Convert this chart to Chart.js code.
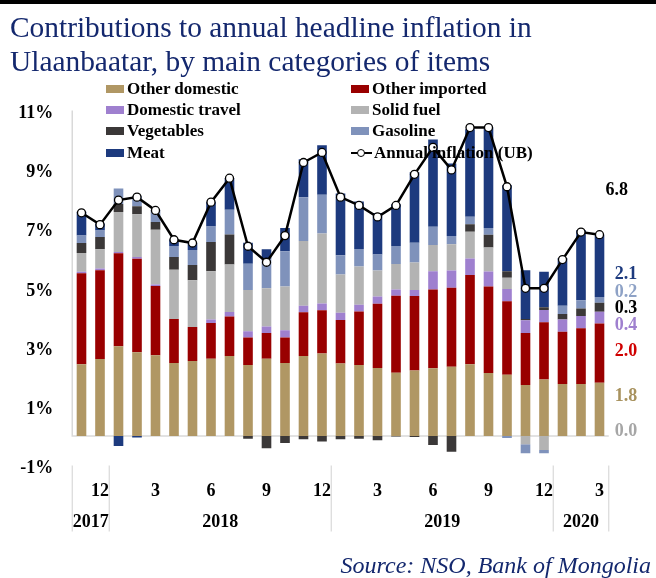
<!DOCTYPE html>
<html lang="en">
<head>
<meta charset="utf-8">
<title>Contributions to annual headline inflation in Ulaanbaatar</title>
<script src="https://cdn.jsdelivr.net/npm/chart.js@4.4.1/dist/chart.umd.min.js"></script>
<style>
  html, body { margin: 0; padding: 0; background: #fff; }
  body {
    width: 656px; height: 578px; position: relative; overflow: hidden;
    font-family: 'Liberation Serif', 'Times New Roman', serif;
  }
  #topbar { position: absolute; left: 0; top: 0; width: 656px; height: 4px; background: #000; }
  #chart { position: absolute; left: 0; top: 0; }
  #title {
    position: absolute; left: 10px; top: 10px;
    font-size: 29.4px; line-height: 34px; color: #14286e;
  }
  #legend {
    position: absolute; left: 106px; top: 78px;
    display: grid; grid-template-columns: 245px auto; grid-auto-rows: 21.3px;
    font-size: 17px; font-weight: bold; color: #000;
  }
  #legend .item { display: flex; align-items: center; white-space: nowrap; }
  #legend .swatch { width: 18px; height: 8px; margin-right: 3px; }
  #legend .line-swatch { position: relative; width: 21px; height: 2px; background: #000; margin-right: 2px; }
  #legend .line-swatch::after {
    content: ''; position: absolute; left: 6px; top: -3px;
    width: 6px; height: 6px; border-radius: 50%; background: #fff; border: 1px solid #000;
  }
  #source {
    position: absolute; right: 5px; top: 552px;
    font-size: 24px; font-style: italic; color: #14286e;
  }
</style>
</head>
<body>
<div id="topbar"></div>
<canvas id="chart" width="656" height="578"></canvas>
<div id="title">Contributions to annual headline inflation in<br>Ulaanbaatar, by main categories of items</div>
<div id="legend"></div>
<div id="source">Source: NSO, Bank of Mongolia</div>
<script>
// Nov 2017 .. Mar 2020, contributions in percentage points
const months = [11, 12, 1, 2, 3, 4, 5, 6, 7, 8, 9, 10, 11, 12, 1, 2, 3, 4, 5, 6, 7, 8, 9, 10, 11, 12, 1, 2, 3];
const years = [2017, 2017,
  2018, 2018, 2018, 2018, 2018, 2018, 2018, 2018, 2018, 2018, 2018, 2018,
  2019, 2019, 2019, 2019, 2019, 2019, 2019, 2019, 2019, 2019, 2019, 2019,
  2020, 2020, 2020];

const otherDomestic = [2.42, 2.60, 3.03, 2.83, 2.73, 2.47, 2.53, 2.61, 2.70, 2.40, 2.61, 2.47, 2.70, 2.79,
  2.45, 2.40, 2.30, 2.14, 2.21, 2.29, 2.34, 2.42, 2.13, 2.07, 1.72, 1.91, 1.76, 1.76, 1.8];
const otherImported = [3.08, 3.00, 3.14, 3.16, 2.34, 1.48, 1.15, 1.21, 1.34, 0.93, 0.87, 0.86, 1.48, 1.46,
  1.47, 1.81, 2.17, 2.60, 2.52, 2.66, 2.67, 3.02, 2.92, 2.48, 1.76, 1.93, 1.76, 1.88, 2.0];
const domesticTravel = [0.05, 0.06, 0.05, 0.06, 0.05, 0, 0, 0.12, 0.15, 0.21, 0.22, 0.24, 0.22, 0.23,
  0.24, 0.22, 0.24, 0.21, 0.20, 0.62, 0.58, 0.56, 0.51, 0.42, 0.43, 0.42, 0.42, 0.41, 0.4];
const solidFuel = [0.63, 0.65, 1.35, 1.44, 1.85, 1.67, 1.58, 1.63, 1.60, 1.39, 1.29, 1.48, 2.19, 2.36,
  1.30, 1.30, 0.88, 0.86, 0.93, 0.88, 0.89, 0.90, 0.81, 0.38, -0.28, -0.47, 0, 0, 0.0];
const vegetables = [0.34, 0.41, 0.27, 0.27, 0.26, 0.43, 0.52, 0.98, 1.02, -0.09, -0.41, -0.24, -0.11, -0.19,
  -0.11, -0.09, -0.14, -0.02, -0.03, -0.30, -0.53, 0.25, 0.43, 0.22, 0.04, 0.09, 0.18, 0.26, 0.3];
const gasoline = [0.25, 0.22, 0.52, 0.35, 0.41, 0.37, 0.50, 0.53, 0.83, 0.89, 1.00, 1.19, 1.48, 1.31,
  0.65, 0.59, 0.54, 0.61, 0.67, 0.62, 0.28, 0.26, 0.23, -0.07, -0.30, -0.11, 0.28, 0.28, 0.2];
const meat = [0.81, 0.24, -0.34, -0.05, 0, 0.22, 0.25, 0.83, 1.08, 0.71, 0.32, 0.79, 1.28, 1.67,
  2.08, 1.60, 1.40, 1.41, 2.38, 2.95, 2.45, 2.95, 3.39, 2.90, 1.65, 1.20, 1.61, 2.36, 2.1];
const inflation = [7.54, 7.14, 7.97, 8.07, 7.62, 6.63, 6.52, 7.90, 8.71, 6.41, 5.87, 6.77, 9.24, 9.58,
  8.07, 7.79, 7.40, 7.79, 8.84, 9.75, 8.99, 10.42, 10.42, 8.42, 4.99, 4.99, 5.96, 6.89, 6.8];

const yTicks = [-1, 1, 3, 5, 7, 9, 11];

const FONT = "'Liberation Serif', 'Times New Roman', serif";

const bars = [
    { label: 'Other domestic', data: otherDomestic, color: '#b09764' },
    { label: 'Other imported', data: otherImported, color: '#990000' },
    { label: 'Domestic travel', data: domesticTravel, color: '#9f80cf' },
    { label: 'Solid fuel', data: solidFuel, color: '#b3b3b3' },
    { label: 'Vegetables', data: vegetables, color: '#3b3838' },
    { label: 'Gasoline', data: gasoline, color: '#7f92bb' },
    { label: 'Meat', data: meat, color: '#1d3a7e' }
];

// latest-month labels on the right, top to bottom
const endSeries = [inflation, meat, gasoline, vegetables, domesticTravel, otherImported, otherDomestic, solidFuel];
const endColors = ['#000', '#1d3a7e', '#8ea2c6', '#000', '#9f80cf', '#d00000', '#a8925e', '#a6a6a6'];
// vertical anchors in axis units, spread so the labels don't collide
const endAnchors = [8.3, 5.47, 4.87, 4.32, 3.73, 2.85, 1.33, 0.15];

const frame = {
    id: 'frame',
    beforeDatasetsDraw(chart) {
        const { ctx, chartArea, scales: { y } } = chart;
        const zero = y.getPixelForValue(0);
        ctx.save();
        ctx.strokeStyle = '#d9d9d9';
        ctx.lineWidth = 1.5;
        ctx.beginPath();
        ctx.moveTo(chartArea.left, chartArea.top);
        ctx.lineTo(chartArea.left, zero);
        ctx.lineTo(chartArea.right, zero);
        ctx.stroke();
        ctx.restore();
    },
    afterDraw(chart) {
        const { ctx, chartArea, scales: { x, y } } = chart;
        const half = (x.getPixelForValue(1) - x.getPixelForValue(0)) / 2;

        // year groups under the month ticks
        const groups = [];
        let start = 0;
        for (let i = 1; i <= years.length; i++) {
            if (i === years.length || years[i] !== years[start]) {
                groups.push({
                    year: years[start],
                    left: x.getPixelForValue(start) - half,
                    right: x.getPixelForValue(i - 1) + half
                });
                start = i;
            }
        }
        ctx.save();
        ctx.strokeStyle = '#d9d9d9';
        ctx.lineWidth = 1.2;
        ctx.beginPath();
        groups.forEach(g => {
            ctx.moveTo(g.left, chartArea.bottom);
            ctx.lineTo(g.left, chartArea.bottom + 66);
        });
        const last = groups[groups.length - 1];
        ctx.moveTo(last.right, chartArea.bottom);
        ctx.lineTo(last.right, chartArea.bottom + 66);
        ctx.stroke();

        ctx.fillStyle = '#000';
        ctx.font = `bold 18px ${FONT}`;
        ctx.textAlign = 'center';
        ctx.textBaseline = 'middle';
        groups.forEach(g => ctx.fillText(String(g.year), (g.left + g.right) / 2, chartArea.bottom + 57));

        // values for the latest month
        const n = inflation.length - 1;
        endSeries.forEach((s, i) => {
            const py = y.getPixelForValue(endAnchors[i]);
            ctx.fillStyle = endColors[i];
            if (i === 0) {
                ctx.textAlign = 'center';
                ctx.fillText(s[n].toFixed(1), chartArea.right + 8, py);
            } else {
                ctx.textAlign = 'left';
                ctx.fillText(s[n].toFixed(1), chartArea.right + 6, py);
            }
        });
        ctx.restore();
    }
};

const chart = new Chart(document.getElementById('chart'), {
    type: 'bar',
    data: {
        labels: months.map((m, i) => `${years[i]}-${String(m).padStart(2, '0')}`),
        datasets: [
            ...bars.map(b => ({
                label: b.label,
                data: b.data,
                backgroundColor: b.color,
                stack: 'items',
                order: 1,
                barPercentage: 0.52,
                categoryPercentage: 1
            })),
            {
                type: 'line',
                label: 'Annual inflation (UB)',
                data: inflation,
                stack: 'total',
                order: 0,
                borderColor: '#000',
                borderWidth: 2.5,
                tension: 0,
                pointRadius: 4,
                pointBackgroundColor: '#fff',
                pointBorderColor: '#000',
                pointBorderWidth: 1.3
            }
        ]
    },
    options: {
        responsive: false,
        animation: false,
        layout: { padding: { top: 110.4, right: 47.25, left: 0, bottom: 0 } },
        plugins: { legend: { display: false }, tooltip: { enabled: false } },
        scales: {
            x: {
                stacked: true,
                grid: { display: false, drawTicks: false },
                border: { display: false },
                ticks: {
                    autoSkip: false,
                    maxRotation: 0,
                    padding: 15,
                    color: '#000',
                    font: { family: FONT, size: 18, weight: 'bold' },
                    callback: (v, i) => (months[i] % 3 === 0 ? String(months[i]) : '')
                },
                afterFit: s => { s.height = 112.4; }
            },
            y: {
                stacked: true,
                min: -1,
                max: 11,
                grid: { display: false, drawTicks: false },
                border: { display: false },
                afterBuildTicks: s => { s.ticks = yTicks.map(v => ({ value: v })); },
                ticks: {
                    padding: 19,
                    labelOffset: 3,
                    color: '#000',
                    font: { family: FONT, size: 18, weight: 'bold' },
                    callback: v => v + '%'
                },
                afterFit: s => { s.width = 72.25; }
            }
        }
    },
    plugins: [frame]
});

// two-column legend built from the datasets
const legendEl = document.getElementById('legend');
chart.data.datasets.forEach(ds => {
    const item = document.createElement('div');
    item.className = 'item';
    const mark = document.createElement('span');
    if (ds.type === 'line') {
        mark.className = 'line-swatch';
    } else {
        mark.className = 'swatch';
        mark.style.background = ds.backgroundColor;
    }
    item.appendChild(mark);
    item.appendChild(document.createTextNode(ds.label));
    legendEl.appendChild(item);
});
</script>
</body>
</html>
